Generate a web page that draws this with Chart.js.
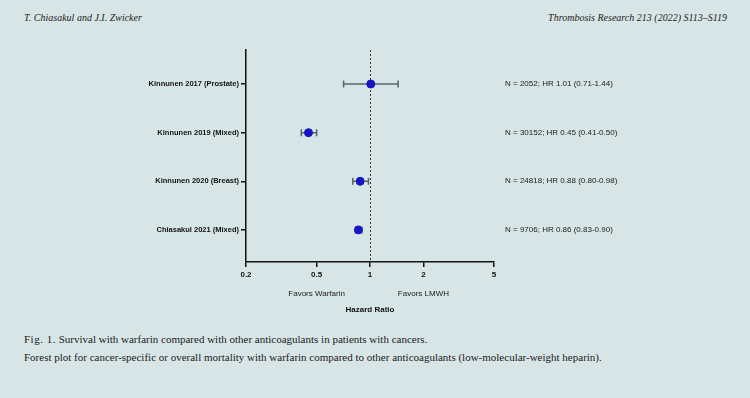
<!DOCTYPE html>
<html>
<head>
<meta charset="utf-8">
<script src="https://cdn.jsdelivr.net/npm/chart.js@4"></script>
<style>
    body { margin: 0; width: 750px; height: 398px; background: #d8e5e7; position: relative; overflow: hidden; }
    #chartBox { position: absolute; left: 0; top: 0; }
    .head { position: absolute; top: 12px; font-family: "Liberation Serif", serif; font-style: italic; font-size: 10px; color: #222; }
    .caption { position: absolute; left: 24px; top: 330px; font-family: "Liberation Serif", serif; font-size: 11px; line-height: 18px; color: #1a1a1a; }
</style>
</head>
<body>
<div class="head" style="left:24px">T. Chiasakul and J.I. Zwicker</div>
<div class="head" style="right:23px">Thrombosis Research 213 (2022) S113–S119</div>
<canvas id="chartBox" width="750" height="320"></canvas>
<div class="caption">
    <span style="letter-spacing:0.5px">Fig. 1.</span> Survival with warfarin compared with other anticoagulants in patients with cancers.<br>
    Forest plot for cancer-specific or overall mortality with warfarin compared to other anticoagulants (low-molecular-weight heparin).
</div>
<script>
// Forest plot data
const studies = ['Kinnunen 2017 (Prostate)', 'Kinnunen 2019 (Mixed)', 'Kinnunen 2020 (Breast)', 'Chiasakul 2021 (Mixed)'];
const hazardRatio = [1.01, 0.45, 0.88, 0.86];
const ciLow = [0.71, 0.41, 0.80, 0.83];
const ciHigh = [1.44, 0.50, 0.98, 0.90];
const summaries = ['N = 2052; HR 1.01 (0.71-1.44)', 'N = 30152; HR 0.45 (0.41-0.50)', 'N = 24818; HR 0.88 (0.80-0.98)', 'N = 9706; HR 0.86 (0.83-0.90)'];
const xTicks = [0.2, 0.5, 1, 2, 5];
const favorLabels = [{ at: 0.5, text: 'Favors Warfarin' }, { at: 2, text: 'Favors LMWH' }];

const fontFam = '"Liberation Sans", Arial, sans-serif';

document.addEventListener("DOMContentLoaded", function () {
    // whiskers, reference line and "favors" labels
    const forestPlugin = {
        id: 'forest',
        beforeDatasetsDraw(chart) {
            const { ctx, chartArea, scales: { x, y } } = chart;
            ctx.save();
            // dotted line at HR = 1
            const x1 = Math.round(x.getPixelForValue(1)) + 0.5;
            ctx.strokeStyle = '#333';
            ctx.lineWidth = 1;
            ctx.setLineDash([2, 2]);
            ctx.beginPath();
            ctx.moveTo(x1, chartArea.top);
            ctx.lineTo(x1, chartArea.bottom);
            ctx.stroke();
            ctx.setLineDash([]);

            // confidence intervals
            ctx.strokeStyle = '#56646e';
            ctx.lineWidth = 1.5;
            studies.forEach(function (s, i) {
                const py = y.getPixelForValue(i + 1);
                const a = x.getPixelForValue(ciLow[i]);
                const b = x.getPixelForValue(ciHigh[i]);
                ctx.beginPath();
                ctx.moveTo(a, py);
                ctx.lineTo(b, py);
                ctx.moveTo(a, py - 3.5);
                ctx.lineTo(a, py + 3.5);
                ctx.moveTo(b, py - 3.5);
                ctx.lineTo(b, py + 3.5);
                ctx.stroke();
            });
            ctx.restore();
        },
        afterDraw(chart) {
            const { ctx, chartArea, scales: { x } } = chart;
            ctx.save();
            ctx.fillStyle = '#1a1a1a';
            ctx.font = '8px ' + fontFam;
            ctx.textAlign = 'center';
            ctx.textBaseline = 'middle';
            favorLabels.forEach(function (f) {
                ctx.fillText(f.text, x.getPixelForValue(f.at), chartArea.bottom + 32);
            });
            ctx.restore();
        }
    };

    new Chart(document.getElementById('chartBox'), {
        type: 'scatter',
        data: {
            datasets: [{
                data: hazardRatio.map(function (v, i) { return { x: v, y: i + 1 }; }),
                backgroundColor: '#1515c4',
                borderColor: '#1515c4',
                pointRadius: 4,
                pointHoverRadius: 4
            }]
        },
        options: {
            responsive: false,
            animation: false,
            events: [],
            layout: { padding: { top: 50, left: 0, right: 0, bottom: 0 } },
            plugins: { legend: { display: false }, tooltip: { enabled: false } },
            scales: {
                x: {
                    type: 'logarithmic',
                    min: 0.2,
                    max: 5,
                    afterBuildTicks: function (scale) { scale.ticks = xTicks.map(function (v) { return { value: v }; }); },
                    afterFit: function (scale) { scale.height = 58; },
                    grid: { drawOnChartArea: false, tickLength: 5, color: '#111', lineWidth: 1.5 },
                    border: { color: '#111', width: 1.5 },
                    ticks: {
                        padding: 3,
                        color: '#111',
                        font: { family: fontFam, size: 8, weight: 'bold' },
                        autoSkip: false,
                        maxRotation: 0,
                        callback: function (v) { return String(v); }
                    },
                    title: {
                        display: true,
                        text: 'Hazard Ratio',
                        color: '#111',
                        padding: { top: 0, bottom: 5 },
                        font: { family: fontFam, size: 8, weight: 'bold' }
                    }
                },
                y: {
                    type: 'linear',
                    position: 'left',
                    min: 0.3,
                    max: 4.66,
                    reverse: true,
                    afterBuildTicks: function (scale) { scale.ticks = studies.map(function (s, i) { return { value: i + 1 }; }); },
                    afterFit: function (scale) { scale.width = 246; },
                    grid: { drawOnChartArea: false, tickLength: 5, color: '#111', lineWidth: 1.5 },
                    border: { color: '#111', width: 1.5 },
                    ticks: {
                        padding: 2,
                        color: '#111',
                        font: { family: fontFam, size: 7.5, weight: 'bold' },
                        callback: function (v) { return studies[v - 1]; }
                    }
                },
                y2: {
                    type: 'linear',
                    position: 'right',
                    min: 0.3,
                    max: 4.66,
                    reverse: true,
                    afterBuildTicks: function (scale) { scale.ticks = summaries.map(function (s, i) { return { value: i + 1 }; }); },
                    afterFit: function (scale) { scale.width = 256; },
                    grid: { display: false, drawTicks: false },
                    border: { display: false },
                    ticks: {
                        padding: 11,
                        color: '#1a1a1a',
                        font: { family: fontFam, size: 8 },
                        callback: function (v) { return summaries[v - 1]; }
                    }
                }
            }
        },
        plugins: [forestPlugin]
    });
});
</script>
</body>
</html>
